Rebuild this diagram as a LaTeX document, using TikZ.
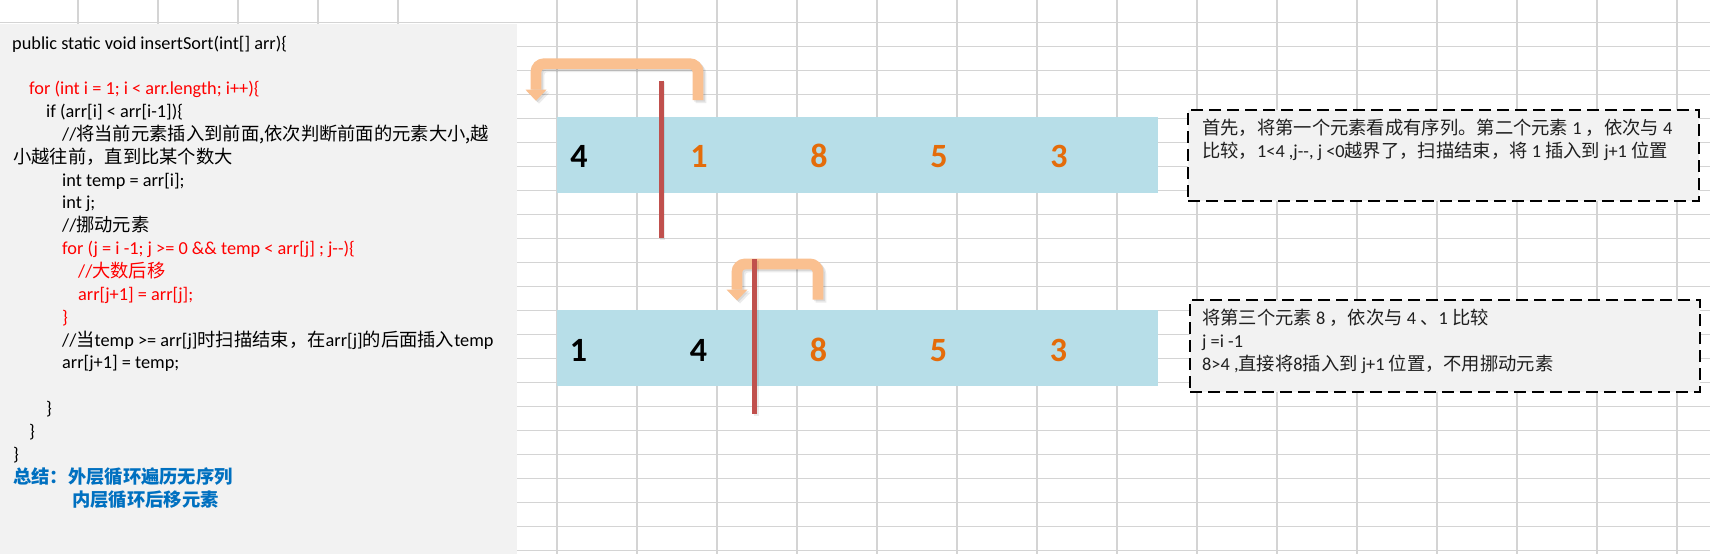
\documentclass[tikz,border=0pt]{standalone}
\usepackage{fontspec}
\setmainfont{Carlito}
\newfontfamily\cjk{Noto Sans CJK SC}
\usetikzlibrary{arrows.meta}
\definecolor{gridc}{HTML}{D4D4D4}
\definecolor{panelc}{HTML}{F2F2F2}
\definecolor{barc}{HTML}{B7DEE8}
\definecolor{numor}{HTML}{E46C0A}
\definecolor{redl}{HTML}{C0504D}
\definecolor{arrc}{HTML}{FAC090}
\definecolor{codered}{HTML}{FF0000}
\definecolor{sumblue}{HTML}{0070C0}
\newcommand\zhc[1]{{\cjk #1}}
\begin{document}
\begin{tikzpicture}[x=1pt,y=-1pt,
  gridline/.style={draw=gridc,line width=1.1pt},
  codeline/.style={anchor=base west,inner sep=0pt,font=\fontsize{18.3}{22.85}\selectfont,text=black},
  redcode/.style={codeline,text=codered},
  sumline/.style={codeline,text=sumblue,font=\fontsize{18.3}{22.85}\selectfont\bfseries},
  bar/.style={fill=barc,draw=none,inner sep=0pt,minimum width=601pt,minimum height=76pt},
  num/.style={anchor=base,inner sep=0pt,font=\fontsize{34}{34}\selectfont\bfseries,text=black},
  numo/.style={num,text=numor},
  redbar/.style={draw=redl,line width=5pt},
  redshadow/.style={draw=black,opacity=0.08,line width=5pt},
  uarrow/.style={draw=arrc,line width=10.8pt,rounded corners=8pt,-{Triangle[width=21pt,length=11pt,line width=0pt]}},
  ushadow/.style={draw=black,opacity=0.08,line width=10.8pt,rounded corners=8pt,-{Triangle[width=21pt,length=11pt,line width=0pt]}},
  dbox/.style={draw=black,fill=panelc,line width=2.4pt,dash pattern=on 12pt off 6pt,inner sep=0pt,anchor=north west},
  boxtext/.style={anchor=base west,inner sep=0pt,font=\fontsize{18.3}{22.85}\selectfont,text=black!88}
]
\useasboundingbox (0,0) rectangle (1710,554);
\fill[white] (0,0) rectangle (1710,554);
% spreadsheet grid
\foreach \x in {78,158,238,318,398}
  \draw[gridline] (\x,0) -- (\x,554);
\foreach \x in {557,637,...,1677}
  \draw[gridline] (\x,0) -- (\x,554);
\foreach \k in {0,...,22}
  \draw[gridline] (0,{22.7+24*\k}) -- (1710,{22.7+24*\k});
% code panel
\fill[panelc] (0,24) rectangle (517,554);
\node[codeline] (c0) at (12,49) {public static void insertSort(int[] arr)\{};
\node[redcode] (c2) at (29,94.7) {for (int i = 1; i < arr.length; i++)\{};
\node[codeline] (c3) at (46,117.55) {if (arr[i] < arr[i-1])\{};
\node[codeline] (c4) at (62,140.4) {//\zhc{将当前元素插入到前面,依次判断前面的元素大小,越}};
\node[codeline] (c5) at (13,163.25) {\zhc{小越往前，直到比某个数大}};
\node[codeline] (c6) at (62,186.1) {int temp = arr[i];};
\node[codeline] (c7) at (62,208.95) {int j;};
\node[codeline] (c8) at (62,231.8) {//\zhc{挪动元素}};
\node[redcode] (c9) at (62,254.65) {for (j = i -1; j >= 0 \&\& temp < arr[j] ; j-{}-)\{};
\node[redcode] (c10) at (78,277.5) {//\zhc{大数后移}};
\node[redcode] (c11) at (78,300.35) {arr[j+1] = arr[j];};
\node[redcode] (c12) at (62,323.2) {\}};
\node[codeline] (c13) at (62,346.05) {//\zhc{当}temp >= arr[j]\zhc{时扫描结束，在}arr[j]\zhc{的后面插入}temp};
\node[codeline] (c14) at (62,368.9) {arr[j+1] = temp;};
\node[codeline] (c16) at (46,414.6) {\}};
\node[codeline] (c17) at (29,437.45) {\}};
\node[codeline] (c18) at (13,460.3) {\}};
\node[sumline] (s1) at (13,483.15) {\zhc{总结：外层循环遍历无序列}};
\node[sumline] (s2) at (72,506) {\zhc{内层循环后移元素}};
% array bars
\node[bar] (bar1) at (857.5,155) {};
\node[bar] (bar2) at (857.5,348) {};
\node[num] (n11) at (579,167) {4};
\node[numo] (n12) at (699,167) {1};
\node[numo] (n13) at (819,167) {8};
\node[numo] (n14) at (939,167) {5};
\node[numo] (n15) at (1059,167) {3};
\node[num] (n21) at (578.6,361) {1};
\node[num] (n22) at (698.6,361) {4};
\node[numo] (n23) at (818.6,361) {8};
\node[numo] (n24) at (938.6,361) {5};
\node[numo] (n25) at (1058.6,361) {3};
% bent arrows
\coordinate (a1s) at (698,100);
\coordinate (a1e) at (536,100.7);
\coordinate (a2s) at (818,299.5);
\coordinate (a2e) at (737,300.5);
\foreach \d in {1.5,3}{
  \draw[ushadow,transform canvas={xshift=\d pt,yshift=-\d pt}] (a1s) -- ++(0,-36.2) -| (a1e);
  \draw[ushadow,transform canvas={xshift=\d pt,yshift=-\d pt}] (a2s) -- ++(0,-35.5) -| (a2e);
}
\draw[uarrow] (a1s) -- ++(0,-36.2) -| (a1e);
\draw[uarrow] (a2s) -- ++(0,-35.5) -| (a2e);
% red separators
\coordinate (r1t) at (661,80.7);
\coordinate (r1b) at (661,238);
\coordinate (r2t) at (754.7,259);
\coordinate (r2b) at (754.7,414);
\draw[redshadow,transform canvas={xshift=1.5pt,yshift=-1.5pt}] (r1t) -- (r1b);
\draw[redshadow,transform canvas={xshift=1.5pt,yshift=-1.5pt}] (r2t) -- (r2b);
\draw[redbar] (r1t) -- (r1b);
\draw[redbar] (r2t) -- (r2b);
% explanation boxes
\node[dbox,minimum width=511pt,minimum height=91pt] (box1) at (1187,109) {};
\node[boxtext] (t11) at (1202,134.5) {\zhc{首先，将第一个元素看成有序列。第二个元素} 1 \zhc{，依次与} 4};
\node[boxtext] (t12) at (1202,157.5) {\zhc{比较，}1<4 ,j-{}-, j <0\zhc{越界了，扫描结束，将} 1 \zhc{插入到} j+1 \zhc{位置}};
\node[dbox,minimum width=510pt,minimum height=92pt] (box2) at (1189,299) {};
\node[boxtext] (t21) at (1202,324.5) {\zhc{将第三个元素} 8 \zhc{，依次与} 4 \zhc{、}1 \zhc{比较}};
\node[boxtext] (t22) at (1202,347.5) {j =i -1};
\node[boxtext] (t23) at (1202,370.5) {8>4 ,\zhc{直接将}8\zhc{插入到} j+1 \zhc{位置，不用挪动元素}};
\end{tikzpicture}
\end{document}
